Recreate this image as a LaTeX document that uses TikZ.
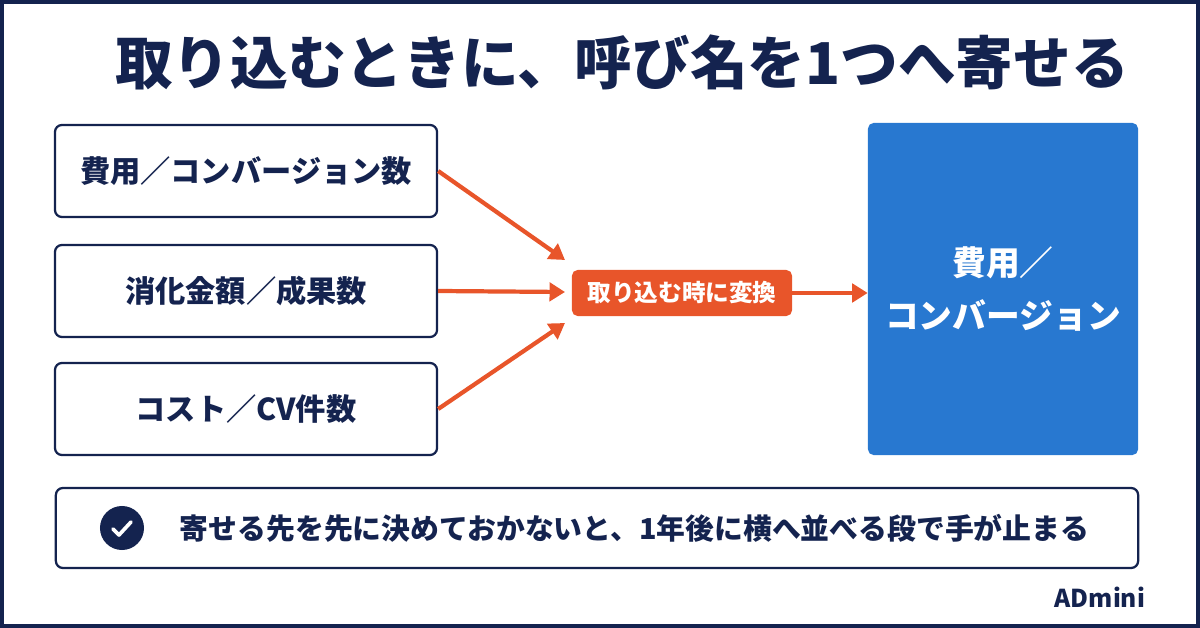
\documentclass[tikz,border=0pt]{standalone}
\usepackage{fontspec}
\setmainfont{Noto Sans CJK JP}
\usetikzlibrary{positioning,arrows.meta}
\definecolor{navy}{HTML}{14234F}
\definecolor{conv}{HTML}{E8552A}
\definecolor{target}{HTML}{2878D0}
\tikzset{
  srcbox/.style={draw=navy,line width=1.6pt,rounded corners=5pt,fill=white,
    minimum width=9.55cm,minimum height=2.3cm,text=navy,font=\bfseries\fontsize{21.5}{26}\selectfont},
  flow/.style={draw=conv,line width=3pt,-{Triangle[length=11pt,width=13pt]}}
}
\begin{document}
\begin{tikzpicture}[x=0.025cm,y=-0.025cm]
\useasboundingbox (0,0) rectangle (1200,628);
\draw[navy,line width=3pt] (2,2) rectangle (1198,626);
% title
\node[text=navy,font=\bfseries\fontsize{41}{46}\selectfont] (title) at (622,62) {取り込むときに、呼び名を1つへ寄せる};
% sources
\node[srcbox] (cost) at (246,171) {費用／コンバージョン数};
\node[srcbox] (spend) at (246,291) {消化金額／成果数};
\node[srcbox] (cv) at (246,409) {コスト／CV件数};
% converter
\node[fill=conv,rounded corners=4pt,minimum width=5.5cm,minimum height=1.15cm,
  text=white,font=\bfseries\fontsize{16.8}{20}\selectfont] (conv) at (682,293) {取り込む時に変換};
% target
\node[fill=target,rounded corners=4pt,minimum width=6.75cm,minimum height=8.3cm,
  text=white,align=center,font=\bfseries\fontsize{24}{38}\selectfont] (target) at (1003,289) {費用／\\コンバージョン};
\draw[flow] (cost.east) -- (565,260);
\draw[flow] (spend.east) -- (565,292);
\draw[flow] (cv.east) -- (565,323);
\draw[flow] (conv.east) -- (conv.east -| target.west);
% note
\node[draw=navy,line width=1.6pt,rounded corners=5pt,minimum width=27.05cm,minimum height=2cm] (note) at (597,528) {};
\node[circle,fill=navy,minimum size=1.1cm] (check) at (122,528) {};
\draw[white,line width=2.6pt,line cap=round,line join=round] (check.center)++(-9,1) -- ++(6,6) -- ++(12,-13);
\node[anchor=west,text=navy,font=\bfseries\fontsize{20.5}{24}\selectfont] (notetext) at (175,528) {寄せる先を先に決めておかないと、1年後に横へ並べる段で手が止まる};
\node[anchor=east,text=navy,font=\bfseries\fontsize{17.5}{21}\selectfont] (brand) at (1150,597) {ADmini};
\end{tikzpicture}
\end{document}
